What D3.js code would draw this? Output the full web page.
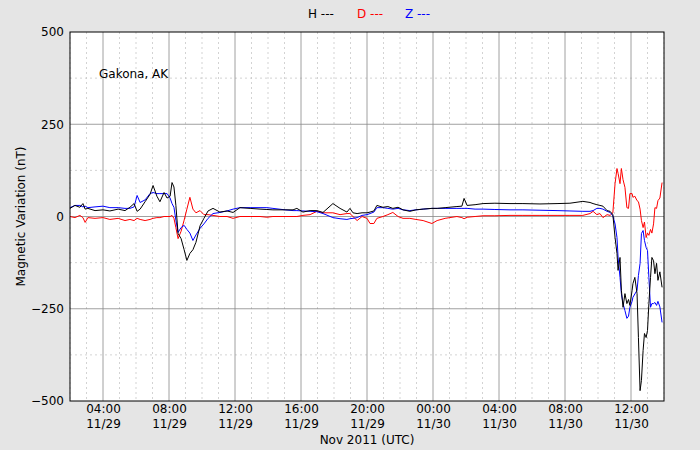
<!DOCTYPE html>
<html><head><meta charset="utf-8">
<script src="https://cdn.jsdelivr.net/npm/d3@7"></script>
<style>body{margin:0;background:#e5e5e5;} text{font-family:"DejaVu Sans",sans-serif;}</style>
</head><body><svg id="c" width="700" height="450"></svg>
<script>
const times = ["11/29 02:00","11/29 02:18","11/29 02:36","11/29 02:47","11/29 02:55","11/29 03:05","11/29 03:31","11/29 04:00","11/29 04:25","11/29 04:55","11/29 05:20","11/29 05:38","11/29 05:53","11/29 06:04","11/29 06:15","11/29 06:33","11/29 06:51","11/29 07:02","11/29 07:16","11/29 07:27","11/29 07:42","11/29 07:53","11/29 08:04","11/29 08:11","11/29 08:18","11/29 08:25","11/29 08:33","11/29 08:44","11/29 08:55","11/29 09:05","11/29 09:16","11/29 09:27","11/29 09:38","11/29 09:53","11/29 10:07","11/29 10:22","11/29 10:40","11/29 11:05","11/29 11:31","11/29 11:53","11/29 12:18","11/29 12:55","11/29 13:31","11/29 13:56","11/29 14:18","11/29 15:02","11/29 15:31","11/29 15:45","11/29 16:07","11/29 16:33","11/29 16:58","11/29 17:20","11/29 17:56","11/29 18:22","11/29 18:47","11/29 18:58","11/29 19:09","11/29 19:24","11/29 19:42","11/29 20:00","11/29 20:11","11/29 20:25","11/29 20:36","11/29 20:58","11/29 21:16","11/29 21:34","11/29 21:53","11/29 22:11","11/29 22:36","11/29 22:58","11/29 23:24","11/29 23:56","11/30 00:15","11/30 00:44","11/30 01:27","11/30 01:45","11/30 01:53","11/30 02:04","11/30 02:33","11/30 03:02","11/30 03:45","11/30 04:40","11/30 05:27","11/30 06:29","11/30 07:31","11/30 08:18","11/30 09:05","11/30 09:31","11/30 09:42","11/30 09:56","11/30 10:07","11/30 10:18","11/30 10:33","11/30 10:44","11/30 10:54","11/30 11:02","11/30 11:09","11/30 11:13","11/30 11:20","11/30 11:25","11/30 11:31","11/30 11:38","11/30 11:45","11/30 11:51","11/30 11:56","11/30 12:04","11/30 12:07","11/30 12:14","11/30 12:22","11/30 12:27","11/30 12:33","11/30 12:38","11/30 12:44","11/30 12:49","11/30 12:55","11/30 13:00","11/30 13:05","11/30 13:11","11/30 13:16","11/30 13:22","11/30 13:27","11/30 13:33","11/30 13:38","11/30 13:45","11/30 13:53"];
const H = [22,30,25,35,20,22,16,18,15,20,16,25,35,14,20,40,60,84,55,40,65,50,55,92,80,30,-46,-60,-90,-119,-100,-90,-70,-25,-5,15,22,12,15,11,24,22,20,19,18,18,18,22,12,16,16,11,35,22,12,22,10,8,10,10,12,15,30,25,27,22,25,18,14,18,20,22,22,24,27,28,49,30,32,35,36,35,35,34,35,36,41,38,35,32,30,28,16,14,5,-57,-100,-146,-111,-200,-246,-209,-236,-225,-241,-200,-182,-165,-209,-328,-472,-444,-363,-317,-328,-309,-236,-165,-111,-120,-155,-127,-173,-150,-192];
const D = [0,-3,3,-3,-16,-3,-5,-3,-8,-5,-11,-8,-11,-5,-8,-11,-8,-5,-3,-3,0,0,0,3,-5,-30,-60,-40,-10,20,52,20,10,16,5,5,3,0,0,-5,0,0,0,-2,0,0,0,0,3,5,14,10,10,5,8,8,0,-11,0,-5,-19,-19,-5,0,5,11,0,-5,-5,-8,-11,-19,-11,-5,0,-3,-6,-2,0,2,2,3,3,3,3,3,3,8,14,5,8,-3,5,3,10,89,130,117,89,130,100,79,24,22,62,62,52,55,43,40,20,-11,-30,-15,-57,-45,-51,-35,-45,-20,24,22,43,50,92];
const Z = [24,30,30,26,28,24,26,28,24,24,22,22,26,57,38,45,62,65,62,62,62,62,50,35,25,-10,-43,-30,-24,-35,-45,-65,-50,-32,-20,-5,8,11,15,20,24,24,24,24,22,18,16,16,15,14,13,8,-3,-6,-8,-6,-5,-3,3,5,8,12,24,24,22,20,22,18,16,18,20,22,22,22,22,22,22,22,20,20,19,18,18,17,16,15,14,14,16,22,22,20,14,11,2,-20,-57,-110,-165,-209,-236,-255,-276,-270,-246,-230,-219,-210,-200,-160,-127,-46,-38,-65,-84,-92,-165,-246,-236,-236,-233,-241,-230,-245,-287];
const yTicks = [500,250,0,-250,-500];
const yMinor = [375,125,-125,-375];
const seriesNames = ["H","D","Z"];

const parse = d3.utcParse("%Y/%m/%d %H:%M");
const t = times.map(s => parse("2011/" + s));
const svg = d3.select("#c");
const L=70,R=664,T=32,B=401;
const x = d3.scaleUtc().domain([parse("2011/11/29 02:00"), parse("2011/11/30 14:00")]).range([L,R]);
const y = d3.scaleLinear().domain([-500,500]).range([B,T]);

svg.append("rect").attr("x",L).attr("y",T).attr("width",R-L).attr("height",B-T).attr("fill","#fff");

const g = svg.append("g");
// minor grid
const hourTicks = x.ticks(d3.utcHour.every(1));
g.selectAll(".vm").data(hourTicks.filter(d=>d.getUTCHours()%4!==0)).join("line")
 .attr("x1",d=>x(d)).attr("x2",d=>x(d)).attr("y1",T).attr("y2",B)
 .attr("stroke","#c8c8c8").attr("stroke-width",0.8).attr("stroke-dasharray","2,3");
g.selectAll(".hm").data(yMinor).join("line")
 .attr("x1",L).attr("x2",R).attr("y1",d=>y(d)).attr("y2",d=>y(d))
 .attr("stroke","#c8c8c8").attr("stroke-width",0.8).attr("stroke-dasharray","2,3");
// major grid
const majorX = x.ticks(d3.utcHour.every(4));
g.selectAll(".vM").data(majorX).join("line")
 .attr("x1",d=>x(d)).attr("x2",d=>x(d)).attr("y1",T).attr("y2",B)
 .attr("stroke","#888").attr("stroke-width",0.8);
g.selectAll(".hM").data(yTicks.filter(d=>d!==500&&d!==-500)).join("line")
 .attr("x1",L).attr("x2",R).attr("y1",d=>y(d)).attr("y2",d=>y(d))
 .attr("stroke","#888").attr("stroke-width",0.8);

// lines
const colors = {H:"#000000",D:"#ff0000",Z:"#0000ff"};
const vals = {H,D,Z};
const line = d3.line().x((d,i)=>x(t[i])).y(d=>y(d));
svg.append("defs").append("clipPath").attr("id","cp").append("rect").attr("x",L).attr("y",T).attr("width",R-L).attr("height",B-T);
["D","Z","H"].forEach(k=>{
  svg.append("path").attr("d",line(vals[k])).attr("fill","none").attr("stroke",colors[k]).attr("stroke-width",1).attr("clip-path","url(#cp)");
});

svg.append("rect").attr("x",L).attr("y",T).attr("width",R-L).attr("height",B-T).attr("fill","none").attr("stroke","#000").attr("stroke-width",1);

// axes
const fmtNum = d => d<0 ? "\u2212"+Math.abs(d) : String(d);
const ya = svg.append("g").attr("transform",`translate(${L},0)`)
 .call(d3.axisLeft(y).tickValues(yTicks).tickSize(0).tickPadding(6).tickFormat(fmtNum));
ya.select(".domain").remove();
ya.selectAll("text").attr("font-size",12).attr("font-family","DejaVu Sans").attr("fill","#000");

const xa = svg.append("g").attr("transform",`translate(0,${B})`)
 .call(d3.axisBottom(x).tickValues(majorX.filter(d=>x(d)>L+1&&x(d)<R-1)).tickSize(0).tickPadding(4).tickFormat(""));
xa.select(".domain").remove();
const f1 = d3.utcFormat("%H:%M"), f2 = d3.utcFormat("%m/%d");
xa.selectAll(".tick").each(function(d){
  const s = d3.select(this);
  s.append("text").attr("y",12).attr("font-size",12).attr("text-anchor","middle").attr("fill","#000").text(f1(d));
  s.append("text").attr("y",27).attr("font-size",12).attr("text-anchor","middle").attr("fill","#000").text(f2(d));
});

svg.append("text").attr("x",(L+R)/2).attr("y",444).attr("text-anchor","middle").attr("font-size",12).text("Nov 2011 (UTC)");
svg.append("text").attr("transform",`translate(25,${(T+B)/2}) rotate(-90)`).attr("text-anchor","middle").attr("font-size",12).text("Magnetic Variation (nT)");
svg.append("text").attr("x",99).attr("y",78).attr("font-size",12).text("Gakona, AK");

// legend
const lx = [308,357,405];
seriesNames.forEach((k,i)=>{
  svg.append("text").attr("x",lx[i]).attr("y",18).attr("font-size",12).attr("fill",colors[k]).text(k+" ---");
});
</script></body></html>
